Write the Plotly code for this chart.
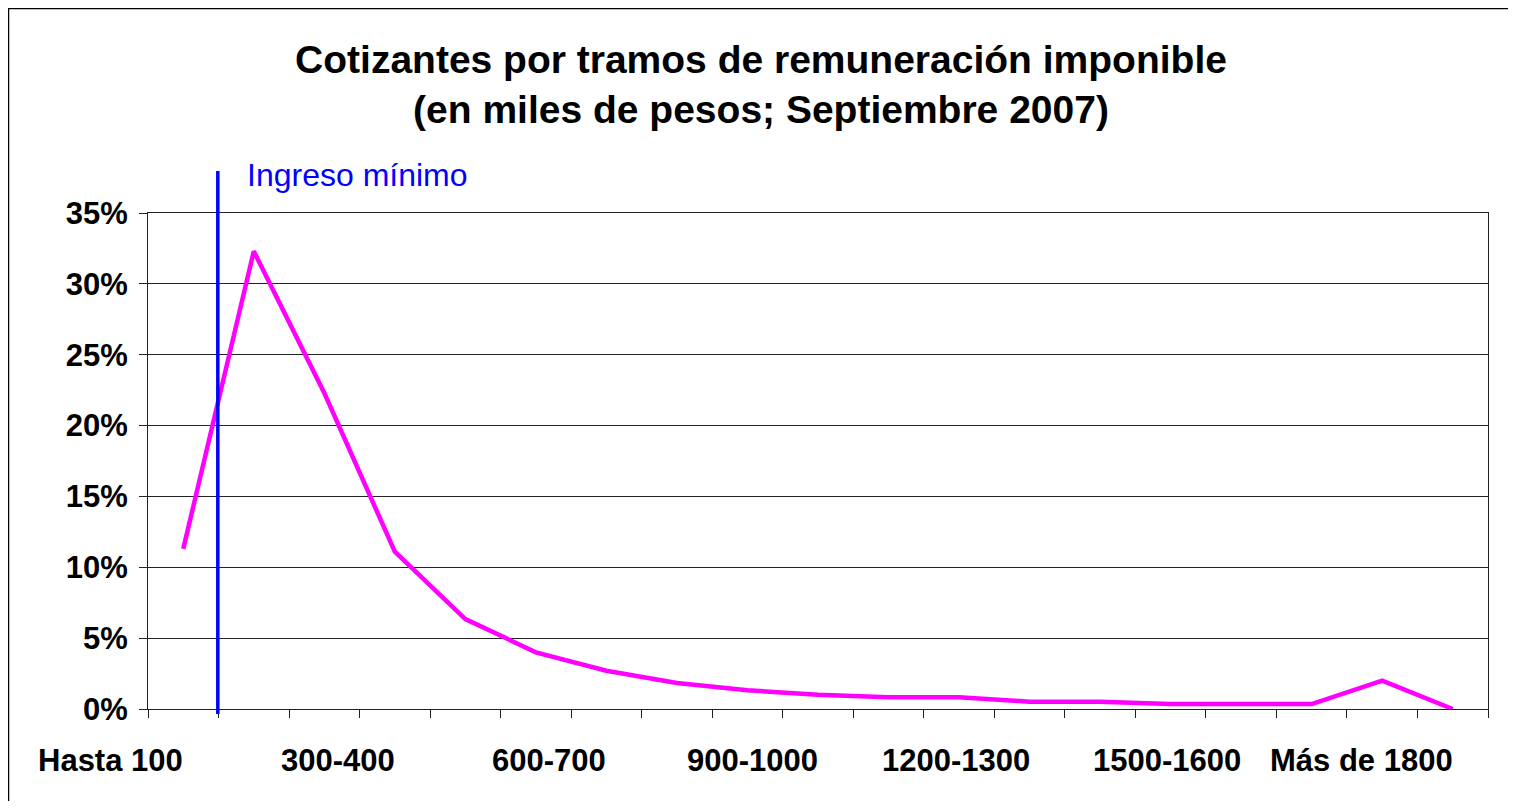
import plotly.graph_objects as go

# Tramos de remuneración imponible (miles de pesos)
tramos = ['Hasta 100', '100-200', '200-300', '300-400', '400-500', '500-600',
          '600-700', '700-800', '800-900', '900-1000', '1000-1100', '1100-1200',
          '1200-1300', '1300-1400', '1400-1500', '1500-1600', '1600-1700',
          '1700-1800', 'Más de 1800']

# Share of contributors in each bracket (fraction)
cotizantes = [0.113, 0.323, 0.223, 0.111, 0.0635, 0.040, 0.027, 0.0183, 0.0132,
              0.010, 0.0083, 0.0083, 0.0052, 0.0052, 0.0035, 0.0035, 0.0035,
              0.020, 0.0]

# only every third bracket gets a label
etiquetas = tramos[::3]

y_ticks = [0, 0.05, 0.10, 0.15, 0.20, 0.25, 0.30, 0.35]

# minimum wage marker, between first and second bracket (category index)
ingreso_minimo = 0.49

FONT = 'Arial, Liberation Sans, sans-serif'
# the page body has an 8px margin, so the figure is a bit smaller than the window
W, H = 1506, 793
M_L, M_R, M_T, M_B = 140, 26, 205, 92
PW, PH = W - M_L - M_R, H - M_T - M_B


def px_x(px):
    return (px - M_L) / PW


def px_y(px):
    return (H - M_B - px) / PH


fig = go.Figure()

fig.add_trace(go.Scatter(
    x=tramos,
    y=cotizantes,
    mode='lines',
    line=dict(color='#FF00FF', width=4.5),
    showlegend=False,
    hoverinfo='x+y'
))

annotations = []
for lab in etiquetas:
    annotations.append(dict(
        x=lab, xref='x', xanchor='right', xshift=2,
        y=px_y(752), yref='paper', yanchor='middle',
        text='<b>%s</b>' % lab, showarrow=False,
        font=dict(family=FONT, size=31, color='black')
    ))

annotations.append(dict(
    x=px_x(237), xref='paper', xanchor='left',
    y=px_y(167), yref='paper', yanchor='middle',
    text='Ingreso mínimo', showarrow=False,
    font=dict(family=FONT, size=32, color='#0000FF')
))

fx0, fx1, fy0, fy1 = px_x(0.5), px_x(W - 1), px_y(0.5), px_y(H + 5)
shapes = [
    # outer frame (bottom edge falls outside the window)
    dict(type='path', xref='paper', yref='paper',
         path='M %f,%f L %f,%f L %f,%f L %f,%f' % (fx0, fy1, fx0, fy0, fx1, fy0, fx1, fy1),
         line=dict(color='black', width=1.5)),
    # minimum wage line
    dict(type='line', xref='x', yref='paper',
         x0=ingreso_minimo, x1=ingreso_minimo, y0=px_y(706), y1=px_y(163),
         line=dict(color='#0000FF', width=3.5)),
]

fig.update_layout(
    width=W, height=H,
    autosize=False,
    margin=dict(l=M_L, r=M_R, t=M_T, b=M_B, pad=0),
    paper_bgcolor='white',
    plot_bgcolor='white',
    font=dict(family=FONT, color='black'),
    title=dict(
        text='<b>Cotizantes por tramos de remuneración imponible<br>'
             '(en miles de pesos; Septiembre 2007)</b>',
        x=(761 - 8) / W, xref='container', xanchor='center',
        y=1 - 64.5 / H, yref='container', yanchor='middle',
        font=dict(family=FONT, size=39, color='black')
    ),
    xaxis=dict(
        type='category',
        categoryorder='array', categoryarray=tramos,
        range=[-0.5, len(tramos) - 0.5],
        showticklabels=False,
        ticks='outside', tickson='boundaries', ticklen=8, tickcolor='#222',
        showgrid=False, zeroline=False,
        showline=True, linecolor='#222', linewidth=1, mirror=True,
    ),
    yaxis=dict(
        range=[0, 0.35],
        tickvals=y_ticks,
        tickformat='.0%',
        ticks='outside', ticklen=8, tickcolor='#222',
        ticklabelstandoff=5,
        tickfont=dict(family=FONT, size=31, color='black', weight='bold'),
        showgrid=True, gridcolor='#222', gridwidth=1,
        zeroline=False,
        showline=True, linecolor='#222', linewidth=1, mirror=True,
    ),
    annotations=annotations,
    shapes=shapes,
)

fig.write_html('out.html')
